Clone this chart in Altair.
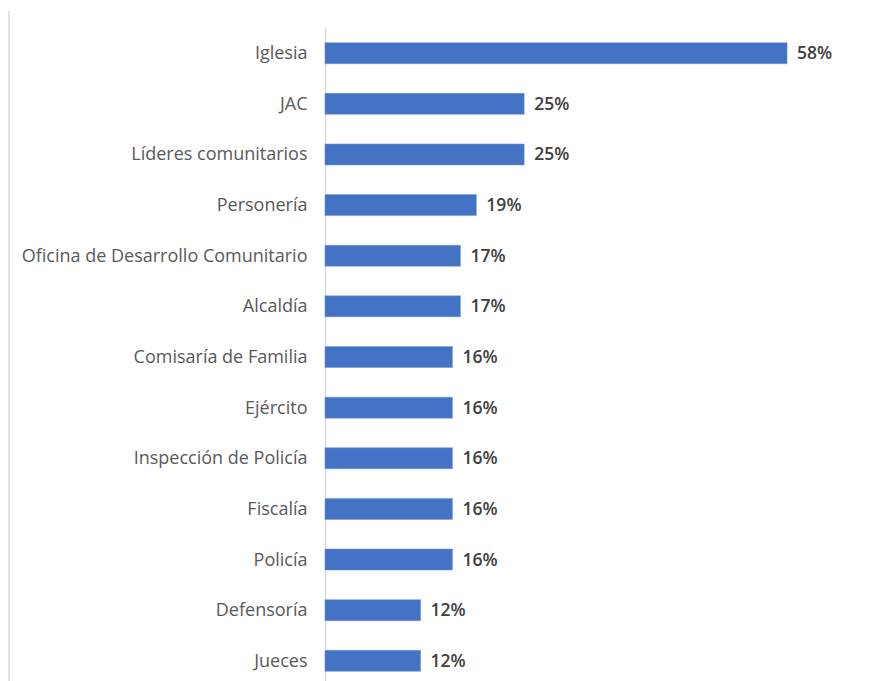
import altair as alt
import pandas as pd

categories = ["Iglesia", "JAC", "Líderes comunitarios", "Personería",
              "Oficina de Desarrollo Comunitario", "Alcaldía", "Comisaría de Familia",
              "Ejército", "Inspección de Policía", "Fiscalía", "Policía",
              "Defensoría", "Jueces"]
values = [58, 25, 25, 19, 17, 17, 16, 16, 16, 16, 16, 12, 12]
labels = [f"{v}%" for v in values]

df = pd.DataFrame({"cat": categories, "val": values, "lab": labels})

FONT = "Open Sans"

y_enc = alt.Y("cat:N", sort=categories, title=None,
              scale=alt.Scale(paddingInner=0.585, paddingOuter=0.29),
              axis=alt.Axis(domainColor="#d9d9d9", domainWidth=1.5, ticks=False,
                            labelFontSize=18, labelColor="#595959", labelFont=FONT,
                            labelPadding=18, labelLimit=400, labelOffset=1))
x_enc = alt.X("val:Q", title=None, scale=alt.Scale(domain=[0, 60]), axis=None)

bars = alt.Chart(df).mark_bar(color="#4472C4", stroke="#6f93d4", strokeWidth=0.5).encode(y=y_enc, x=x_enc)

text = alt.Chart(df).mark_text(align="left", baseline="middle", dx=10, dy=1, fontSize=17.5,
                               font=FONT, color="#404040", fontWeight=600).encode(
    y=alt.Y("cat:N", sort=categories), x="val:Q", text="lab:N")

border = alt.Chart(df).mark_rule(color="#e3e3e3", strokeWidth=1.5).encode(
    x=alt.value(-316), y=alt.value(-17), y2=alt.value(700))

chart = alt.layer(border, bars, text).properties(
    width=478, height=658,
    autosize=alt.AutoSizeParams(type="none"),
    padding={"left": 317, "top": 20, "right": 80, "bottom": 0},
    background="white",
).configure_view(stroke=None)

chart.save("out.html", embed_options={"renderer": "svg", "actions": False})
